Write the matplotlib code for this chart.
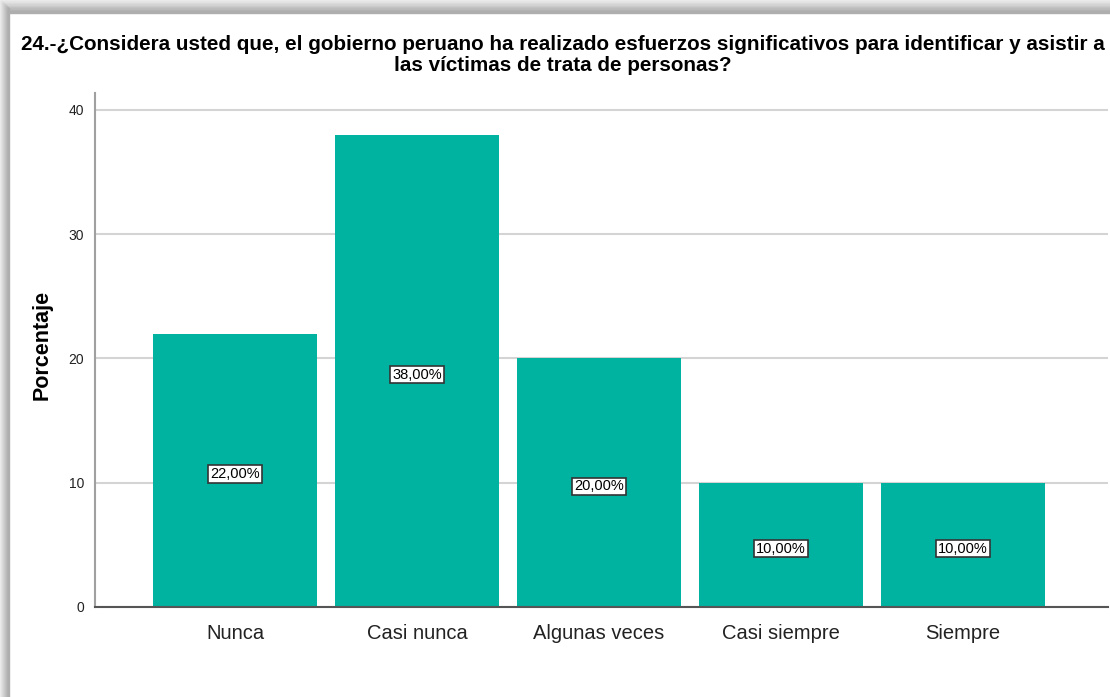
import numpy as np
import matplotlib
matplotlib.use("Agg")
from matplotlib import pyplot as plt
from matplotlib.patches import Rectangle

categories = ["Nunca", "Casi nunca", "Algunas veces", "Casi siempre", "Siempre"]
percentages = [22.0, 38.0, 20.0, 10.0, 10.0]
yticks = [0, 10, 20, 30, 40]
title = ("24.-¿Considera usted que, el gobierno peruano ha realizado esfuerzos significativos para identificar y asistir a\n"
         "las víctimas de trata de personas?")

plt.rcParams["font.family"] = ["Liberation Sans", "DejaVu Sans"]

W, H = 1110, 697
fig = plt.figure(figsize=(W / 100, H / 100), dpi=100)

# drop shadow band on the left and top of the output panel
shades = ["#ececec", "#e4e4e4", "#dcdcdc", "#d4d4d4", "#cccccc", "#c4c4c4", "#bcbcbc", "#b4b4b4", "#aeaeae"]
for i, s in enumerate(shades):
    fig.patches.append(Rectangle((i / W, 0), 1 / W, 1 - i / H, transform=fig.transFigure, color=s, zorder=0))
    fig.patches.append(Rectangle((i / W, 1 - (i + 1) * 1.4 / H), 1 - i / W, 1.4 / H,
                                 transform=fig.transFigure, color=s, zorder=0))

ax = fig.add_axes([95 / W, 1 - 607 / H, (1108 - 95) / W, (607 - 93) / H])
x = np.arange(len(categories))
ax.set_axisbelow(True)
ax.yaxis.grid(True, color="#d4d4d4", linewidth=1.5)
ax.bar(x, percentages, width=0.9, color="#00b3a0", zorder=2)

for xi, v in zip(x, percentages):
    ax.text(xi, v / 2 - 0.3, f"{v:.2f}%".replace(".", ","), ha="center", va="center",
            fontsize=10.5, color="black", zorder=3,
            bbox=dict(boxstyle="square,pad=0.12", facecolor="white", edgecolor="#333333", linewidth=1.2))

ax.set_xlim(-0.769, 4.797)
ax.set_ylim(0, 41.35)
ax.set_xticks(x)
ax.set_xticklabels(categories, fontsize=14.5, color="#222222")
ax.tick_params(axis="both", length=0)
ax.set_yticks(yticks)
ax.set_yticklabels([str(t) for t in yticks], fontsize=10, color="#222222")
ax.tick_params(axis="x", pad=12)
ax.tick_params(axis="y", pad=8)

for side in ["top", "right"]:
    ax.spines[side].set_visible(False)
ax.spines["left"].set_color("#a0a0a0")
ax.spines["left"].set_linewidth(1.5)
ax.spines["bottom"].set_color("#555555")
ax.spines["bottom"].set_linewidth(1.5)

ax.set_ylabel("Porcentaje", fontsize=15.5, fontweight="bold")
ax.yaxis.set_label_coords(-0.042, 0.51)
fig.text(563 / W, 1 - 55 / H, title, ha="center", va="center", fontsize=14.9,
         fontweight="bold", linespacing=1.15)

plt.savefig("out.png", dpi=100)
plt.close()
